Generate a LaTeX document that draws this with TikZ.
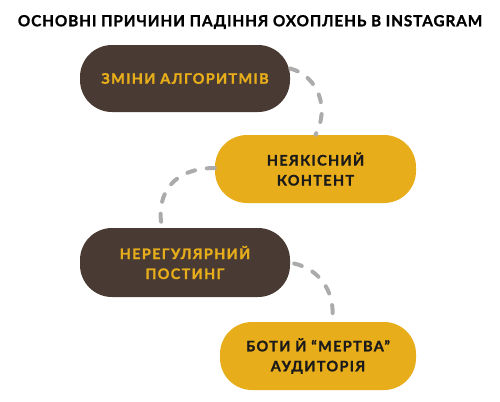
\documentclass[tikz,border=0pt]{standalone}
\usepackage{fontspec}
\setmainfont{Lato}
\newfontfamily\boxfont{Lato}[LetterSpace=9,BoldFeatures={FakeBold=1.2}]
\newfontfamily\titlefont{Lato}[LetterSpace=6,BoldFeatures={FakeBold=1.2}]
\definecolor{brownc}{HTML}{493B33}
\definecolor{yellowc}{HTML}{E8AD1A}
\definecolor{dashc}{HTML}{ABABAB}
\definecolor{inkc}{HTML}{1A1A1A}
\begin{document}
\begin{tikzpicture}[x=1bp,y=-1bp,
  pill/.style={rectangle,rounded corners=32bp,inner sep=0pt,align=center,
    font=\boxfont\bfseries\fontsize{14.5bp}{20bp}\selectfont},
  darkpill/.style={pill,fill=brownc,text=yellowc},
  lightpill/.style={pill,fill=yellowc,text=inkc},
  link/.style={draw=dashc,line width=4bp,line cap=round,dash pattern=on 8bp off 12bp}]
\useasboundingbox (0,0) rectangle (500,401);
\node[font=\titlefont\bfseries\fontsize{15.3bp}{18bp}\selectfont,text=black] (title) at (250,22) {ОСНОВНІ ПРИЧИНИ ПАДІННЯ ОХОПЛЕНЬ В INSTAGRAM};
\node[darkpill,minimum width=210bp,minimum height=67bp] (b1) at (185,78.5) {ЗМІНИ АЛГОРИТМІВ};
\node[lightpill,minimum width=201bp,minimum height=68bp] (b2) at (315.5,169) {НЕЯКІСНИЙ\\КОНТЕНТ};
\node[darkpill,minimum width=210bp,minimum height=69bp] (b3) at (185,262.5) {НЕРЕГУЛЯРНИЙ\\ПОСТИНГ};
\node[lightpill,minimum width=196bp,minimum height=68bp] (b4) at (318,356) {БОТИ Й “МЕРТВА”\\АУДИТОРІЯ};
\draw[link] ([yshift=10bp]b1.east) .. controls (318,76) and (330,108) .. (b2.north);
\draw[link] ([yshift=1bp]b2.west) .. controls (175,168) and (155,192) .. ([xshift=-23bp]b3.north);
\draw[link] ([xshift=4bp,yshift=-1bp]b3.east) .. controls (322,270) and (336,295) .. ([xshift=14bp]b4.north);
\end{tikzpicture}
\end{document}
